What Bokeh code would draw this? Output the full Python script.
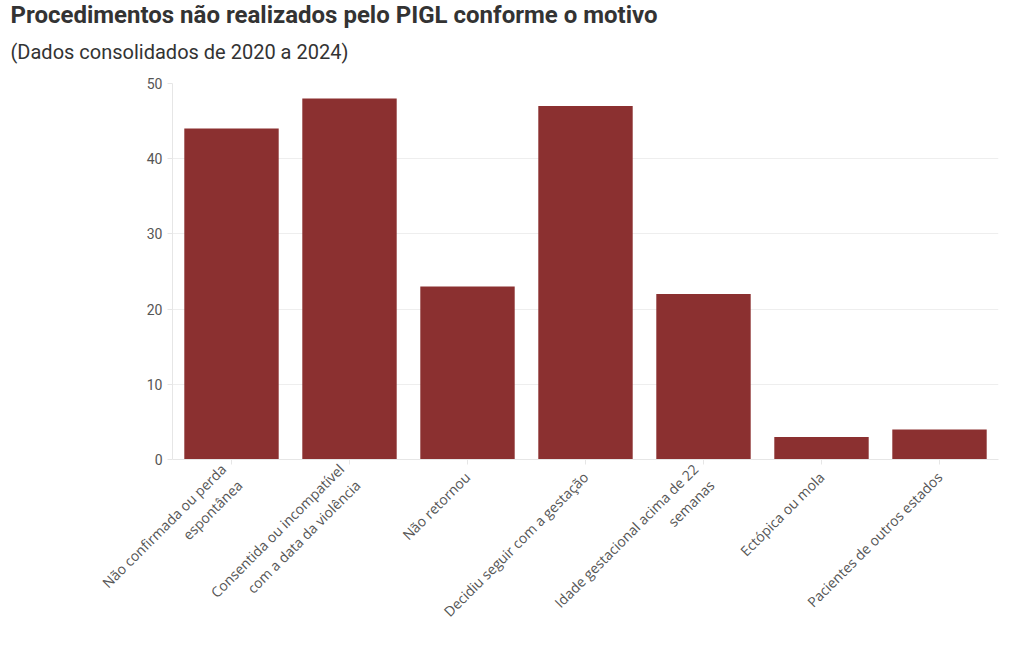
from bokeh.plotting import figure
from bokeh.models import Title, FactorRange, ColumnDataSource
from bokeh.embed import file_html
from bokeh.resources import INLINE
import math

categories = [
    "Não confirmada ou perda\nespontânea",
    "Consentida ou incompatível\ncom a data da violência",
    "Não retornou",
    "Decidiu seguir com a gestação",
    "Idade gestacional acima de 22\nsemanas",
    "Ectópica ou mola",
    "Pacientes de outros estados",
]
values = [44, 48, 23, 47, 22, 3, 4]
y_ticks = [0, 10, 20, 30, 40, 50]

title_text = "Procedimentos não realizados pelo PIGL conforme o motivo"
subtitle_text = "(Dados consolidados de 2020 a 2024)"

src = ColumnDataSource(dict(cat=categories, val=values))

p = figure(width=1020, height=650, x_range=FactorRange(*categories), y_range=(0, 50),
           output_backend="svg", toolbar_location=None,
           min_border_left=172, min_border_right=22, min_border_top=83, min_border_bottom=191)

p.vbar(x="cat", top="val", width=0.8, source=src, fill_color="#8b3030", line_color=None, fill_alpha=1)

p.outline_line_color = None
p.background_fill_color = "white"

sub = Title(text=subtitle_text, align="left", text_font="Roboto", text_font_size="20px",
            text_font_style="normal", text_color="#333333", offset=-162, standoff=40)
p.add_layout(sub, "above")
p.title.text = title_text
p.title.align = "left"
p.title.text_font = "Roboto"
p.title.text_font_size = "24px"
p.title.text_font_style = "bold"
p.title.text_color = "#333333"
p.title.offset = -162
p.title.standoff = -22

p.yaxis.ticker = y_ticks
p.yaxis.axis_line_color = "#e6e6e6"
p.yaxis.major_tick_line_color = "#e6e6e6"
p.yaxis.major_tick_out = 5
p.yaxis.major_tick_in = 0
p.yaxis.minor_tick_line_color = None
p.yaxis.major_label_text_font = "Roboto"
p.yaxis.major_label_text_font_size = "14px"
p.yaxis.major_label_text_color = "#555555"

p.xaxis.axis_line_color = "#e6e6e6"
p.xaxis.major_tick_line_color = "#e6e6e6"
p.xaxis.major_tick_out = 5
p.xaxis.major_tick_in = 0
p.xaxis.major_label_standoff = 10
p.xaxis.major_label_orientation = math.pi / 4
p.xaxis.major_label_text_font = "Open Sans"
p.xaxis.major_label_text_font_size = "14px"
p.xaxis.major_label_text_color = "#555555"

p.xgrid.grid_line_color = None
p.ygrid.grid_line_color = "#eeeeee"

open("out.html", "w").write(file_html(p, INLINE))
